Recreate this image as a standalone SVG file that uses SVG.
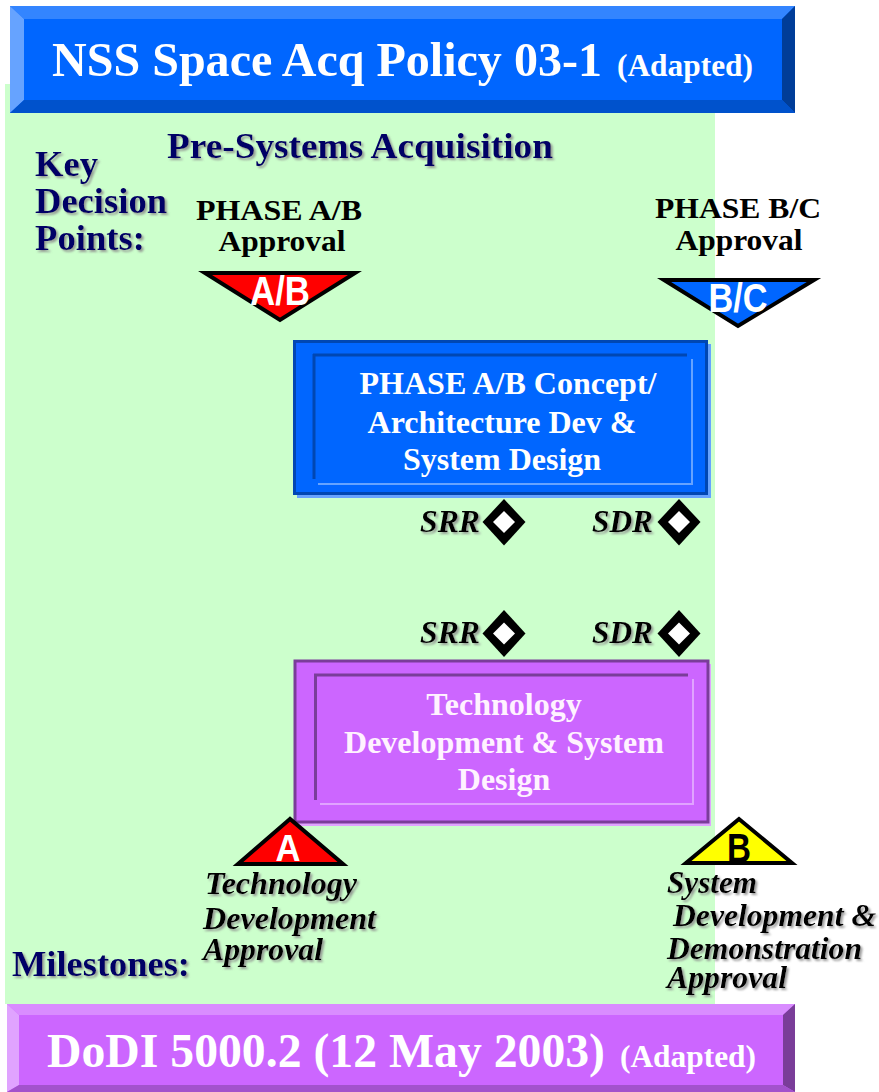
<svg xmlns="http://www.w3.org/2000/svg" width="879" height="1092" viewBox="0 0 879 1092">
  <defs>
    <filter id="shadow" x="-10%" y="-30%" width="130%" height="170%">
      <feDropShadow dx="2" dy="2" stdDeviation="0.8" flood-color="#8c8c8c" flood-opacity="0.85"/>
    </filter>
  </defs>
  <style>
    .banner { font-family: "Liberation Serif", "Times New Roman", serif; font-weight: bold; fill: #ffffff; }
    .navy { font-family: "Liberation Serif", "Times New Roman", serif; font-weight: bold; fill: #000066; font-size: 36px; }
    .kdp { font-family: "Liberation Serif", "Times New Roman", serif; font-weight: bold; fill: #000000; font-size: 30px; text-anchor: middle; }
    .boxtext { font-family: "Liberation Serif", "Times New Roman", serif; font-weight: bold; font-size: 32px; text-anchor: middle; }
    .ital { font-family: "Liberation Serif", "Times New Roman", serif; font-weight: bold; font-style: italic; fill: #000000; font-size: 31px; }
    .tri { stroke: #000000; stroke-width: 4; stroke-linejoin: miter; }
    .trilabel { font-family: "Liberation Sans", Arial, sans-serif; font-weight: bold; text-anchor: middle; }
    .dia-out { fill: #000000; }
    .dia-in { fill: #ffffff; }
  </style>

  <!-- page background -->
  <rect x="0" y="0" width="879" height="1092" fill="#ffffff"/>
  <!-- pre-systems acquisition area -->
  <rect x="5" y="84" width="710" height="920" fill="#ccffcc"/>

  <!-- top bevelled banner -->
  <g id="banner-nss">
    <rect x="10" y="6" width="785" height="107" fill="#0066ff"/>
    <polygon points="10,6 795,6 782,19 24,19" fill="#3385ff"/>
    <polygon points="10,6 24,19 24,100 10,113" fill="#66a3ff"/>
    <polygon points="795,6 795,113 782,100 782,19" fill="#003d99"/>
    <polygon points="10,113 24,100 782,100 795,113" fill="#0052cc"/>
    <text class="banner" x="52" y="76" font-size="48" textLength="550" lengthAdjust="spacingAndGlyphs">NSS Space Acq Policy 03-1</text>
    <text class="banner" x="617" y="76" font-size="31" textLength="136" lengthAdjust="spacingAndGlyphs">(Adapted)</text>
  </g>

  <!-- bottom bevelled banner -->
  <g id="banner-dodi">
    <rect x="7" y="1004" width="788" height="88" fill="#cc66ff"/>
    <polygon points="7,1004 795,1004 783,1015 19,1015" fill="#d98cff"/>
    <polygon points="7,1004 19,1015 19,1085 7,1092" fill="#e0a3ff"/>
    <polygon points="795,1004 795,1092 783,1085 783,1015" fill="#7a3d99"/>
    <polygon points="7,1092 19,1085 783,1085 795,1092" fill="#a352cc"/>
    <text class="banner" x="47" y="1067" font-size="48" textLength="558" lengthAdjust="spacingAndGlyphs">DoDI 5000.2 (12 May 2003)</text>
    <text class="banner" x="620" y="1067" font-size="31" textLength="136" lengthAdjust="spacingAndGlyphs">(Adapted)</text>
  </g>

  <!-- side and section labels -->
  <g id="labels" filter="url(#shadow)">
    <text class="navy" x="167" y="158" textLength="386" lengthAdjust="spacingAndGlyphs">Pre-Systems Acquisition</text>
    <text class="navy" x="35" y="176" textLength="63" lengthAdjust="spacingAndGlyphs">Key</text>
    <text class="navy" x="35" y="213" textLength="132" lengthAdjust="spacingAndGlyphs">Decision</text>
    <text class="navy" x="35" y="250" textLength="110" lengthAdjust="spacingAndGlyphs">Points:</text>
    <text class="navy" x="12" y="976" textLength="178" lengthAdjust="spacingAndGlyphs">Milestones:</text>
  </g>

  <!-- key decision point: phase A/B -->
  <g id="kdp-ab">
    <text class="kdp" x="279" y="220" textLength="166" lengthAdjust="spacingAndGlyphs">PHASE A/B</text>
    <text class="kdp" x="282" y="251" textLength="127" lengthAdjust="spacingAndGlyphs">Approval</text>
    <polygon class="tri" points="205,273 355,273 280,320" fill="#ff0000"/>
    <text class="trilabel" x="280" y="305" font-size="40" fill="#ffffff" textLength="60" lengthAdjust="spacingAndGlyphs">A/B</text>
  </g>

  <!-- key decision point: phase B/C -->
  <g id="kdp-bc">
    <text class="kdp" x="738" y="218" textLength="166" lengthAdjust="spacingAndGlyphs">PHASE B/C</text>
    <text class="kdp" x="739" y="250" textLength="127" lengthAdjust="spacingAndGlyphs">Approval</text>
    <polygon class="tri" points="664,280 814,280 738,326" fill="#0066ff"/>
    <text class="trilabel" x="738" y="312" font-size="40" fill="#ffffff" textLength="59" lengthAdjust="spacingAndGlyphs">B/C</text>
  </g>

  <!-- phase A/B work box -->
  <g id="box-phase-ab">
    <rect x="297" y="344" width="414" height="154" fill="#66a3ff"/>
    <rect x="294.5" y="341.5" width="412" height="152" fill="#0066ff" stroke="#0047b3" stroke-width="3"/>
    <line x1="313" y1="355" x2="687" y2="355" stroke="#0047b3" stroke-width="3"/>
    <line x1="314" y1="354" x2="314" y2="479" stroke="#0047b3" stroke-width="3"/>
    <line x1="318" y1="484" x2="692" y2="484" stroke="#66a3ff" stroke-width="2"/>
    <line x1="692" y1="359" x2="692" y2="485" stroke="#66a3ff" stroke-width="2"/>
    <text class="boxtext" x="508" y="394" fill="#ffffff">PHASE A/B Concept/</text>
    <text class="boxtext" x="502" y="433" fill="#ffffff">Architecture Dev &amp;</text>
    <text class="boxtext" x="502" y="470" fill="#ffffff">System Design</text>
  </g>

  <!-- technology development box -->
  <g id="box-tech-dev">
    <rect x="298" y="664" width="413" height="162" fill="#e0a3ff"/>
    <rect x="295" y="661" width="413" height="161" fill="#cc66ff" stroke="#7a3d99" stroke-width="3"/>
    <line x1="314" y1="675" x2="688" y2="675" stroke="#7a3d99" stroke-width="3"/>
    <line x1="315.5" y1="674" x2="315.5" y2="800" stroke="#7a3d99" stroke-width="3"/>
    <line x1="320" y1="804" x2="693" y2="804" stroke="#e0a3ff" stroke-width="2"/>
    <line x1="693" y1="679" x2="693" y2="805" stroke="#e0a3ff" stroke-width="2"/>
    <text class="boxtext" x="504" y="715" fill="#fff2ff">Technology</text>
    <text class="boxtext" x="504" y="753" fill="#fff2ff">Development &amp; System</text>
    <text class="boxtext" x="504" y="790" fill="#fff2ff">Design</text>
  </g>

  <!-- review points -->
  <g id="review-srr-ab">
    <polygon class="dia-out" points="504,499 525.5,522 504,545.5 482.5,522"/>
    <polygon class="dia-in" points="504,511 515,522 504,533 493,522"/>
    <text class="ital" x="420" y="532" font-size="32" textLength="60" lengthAdjust="spacingAndGlyphs" filter="url(#shadow)">SRR</text>
  </g>
  <g id="review-sdr-ab">
    <polygon class="dia-out" points="679,499 700.5,522 679,545.5 657.5,522"/>
    <polygon class="dia-in" points="679,511 690,522 679,533 668,522"/>
    <text class="ital" x="592" y="532" font-size="32" textLength="61" lengthAdjust="spacingAndGlyphs" filter="url(#shadow)">SDR</text>
  </g>
  <g id="review-srr-td">
    <polygon class="dia-out" points="504,610 525.5,633.5 504,657 482.5,633.5"/>
    <polygon class="dia-in" points="504,622.5 515,633.5 504,644.5 493,633.5"/>
    <text class="ital" x="420" y="643" font-size="32" textLength="60" lengthAdjust="spacingAndGlyphs" filter="url(#shadow)">SRR</text>
  </g>
  <g id="review-sdr-td">
    <polygon class="dia-out" points="679,610 700.5,633.5 679,657 657.5,633.5"/>
    <polygon class="dia-in" points="679,622.5 690,633.5 679,644.5 668,633.5"/>
    <text class="ital" x="592" y="643" font-size="32" textLength="61" lengthAdjust="spacingAndGlyphs" filter="url(#shadow)">SDR</text>
  </g>

  <!-- milestone A -->
  <g id="milestone-a">
    <polygon class="tri" points="290,819 238,864 343,864" fill="#ff0000"/>
    <text class="trilabel" x="288" y="861" font-size="36" fill="#ffffff" textLength="25" lengthAdjust="spacingAndGlyphs">A</text>
    <g filter="url(#shadow)">
      <text class="ital" x="205" y="894" textLength="152" lengthAdjust="spacingAndGlyphs">Technology</text>
      <text class="ital" x="203" y="929" textLength="173" lengthAdjust="spacingAndGlyphs">Development</text>
      <text class="ital" x="203" y="960" textLength="120" lengthAdjust="spacingAndGlyphs">Approval</text>
    </g>
  </g>

  <!-- milestone B -->
  <g id="milestone-b">
    <polygon class="tri" points="739,819 686,863 792,863" fill="#ffff00"/>
    <text class="trilabel" x="739" y="862" font-size="40" fill="#000000" textLength="24" lengthAdjust="spacingAndGlyphs">B</text>
    <g filter="url(#shadow)">
      <text class="ital" x="667" y="893" textLength="90" lengthAdjust="spacingAndGlyphs">System</text>
      <text class="ital" x="673" y="926" textLength="203" lengthAdjust="spacingAndGlyphs">Development &amp;</text>
      <text class="ital" x="667" y="959" textLength="195" lengthAdjust="spacingAndGlyphs">Demonstration</text>
      <text class="ital" x="667" y="988" textLength="120" lengthAdjust="spacingAndGlyphs">Approval</text>
    </g>
  </g>

  <!-- connectors: none drawn -->
  <g id="connectors"/>
</svg>
